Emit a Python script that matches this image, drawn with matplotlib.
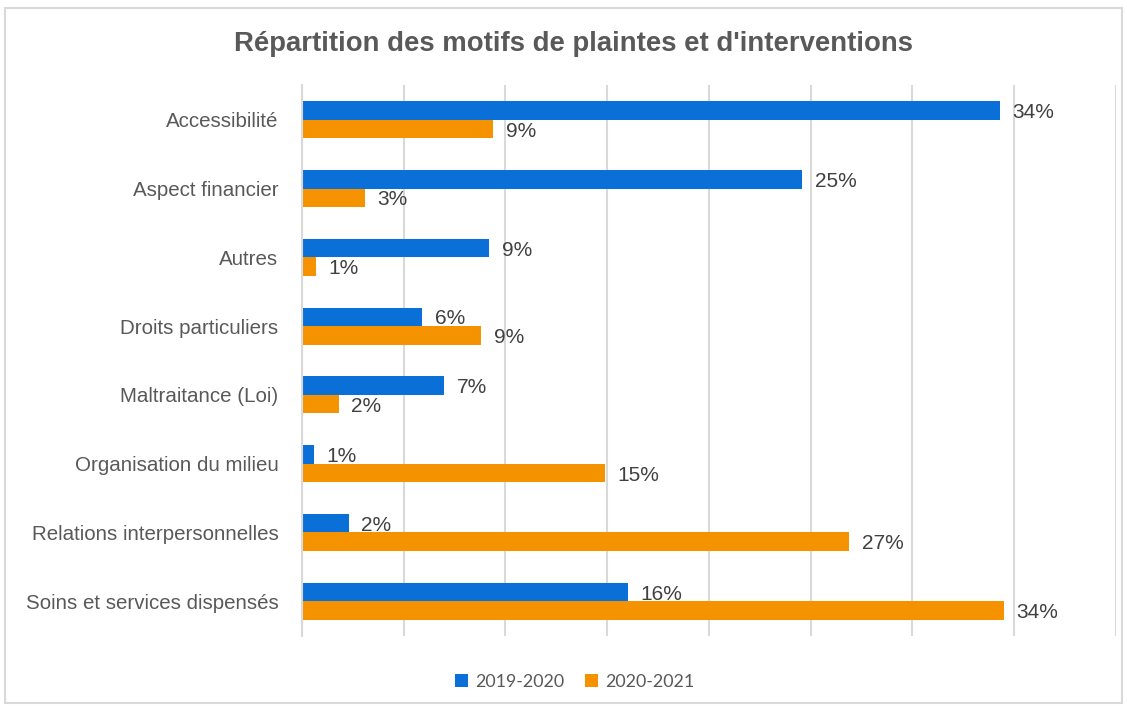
# Horizontal grouped bar chart: complaint / intervention reasons
import matplotlib.pyplot as plt
import matplotlib.patches as mpatches
import numpy as np

plt.rcParams['font.family'] = ['Liberation Sans', 'DejaVu Sans']

# data (percent)
categories = ['Accessibilité', 'Aspect financier', 'Autres', 'Droits particuliers',
              'Maltraitance (Loi)', 'Organisation du milieu',
              'Relations interpersonnelles', 'Soins et services dispensés']
series_names = ['2019-2020', '2020-2021']
values_2019 = [34.3, 24.6, 9.2, 5.9, 7.0, 0.6, 2.3, 16.0]
values_2020 = [9.4, 3.1, 0.7, 8.8, 1.8, 14.9, 26.9, 34.5]

blue = '#0a70d8'
orange = '#f59200'
text_grey = '#595959'

fig = plt.figure(figsize=(11.27, 7.06), dpi=100)
ax = fig.add_axes([0.268, 0.0997, 0.722, 0.7793])

# light frame around the whole chart
fig.patches.append(mpatches.Rectangle((0.004, 0.004), 0.992, 0.984, transform=fig.transFigure,
                                      fill=False, edgecolor='#d9d9d9', linewidth=1.5))

y = np.arange(len(categories))
h = 0.27
bars1 = ax.barh(y - h / 2, values_2019, height=h, color=blue, label=series_names[0])
bars2 = ax.barh(y + h / 2, values_2020, height=h, color=orange, label=series_names[1])

# labels sit a touch below the bar centre, as in the original
for bars, vals in [(bars1, values_2019), (bars2, values_2020)]:
    for b, v in zip(bars, vals):
        ax.annotate(f'{round(v)}%', (b.get_width(), b.get_y() + b.get_height() / 2),
                    xytext=(9, -1.5), textcoords='offset points', ha='left', va='center',
                    fontsize=15, color='#404040')

ax.set_xlim(0, 40)
ax.set_ylim(len(categories) - 0.5, -0.5)
ax.set_xticks(np.arange(0, 41, 5))
ax.set_xticklabels([])
ax.tick_params(axis='x', length=0)
ax.set_yticks(y)
ax.set_yticklabels(categories, fontsize=14.8, color=text_grey)
ax.tick_params(axis='y', length=0, pad=17)

ax.grid(axis='x', color='#d9d9d9', linewidth=1.5)
ax.set_axisbelow(True)
for side in ['top', 'right', 'bottom']:
    ax.spines[side].set_visible(False)
ax.spines['left'].set_color('#d9d9d9')
ax.spines['left'].set_linewidth(1.5)

fig.text(0.509, 0.938, "Répartition des motifs de plaintes et d'interventions",
         ha='center', va='center', fontsize=19.8, fontweight='bold', color=text_grey)

leg = fig.legend(loc='center', bbox_to_anchor=(0.51, 0.034), ncol=2, frameon=False,
                 handlelength=0.7, handleheight=0.7, columnspacing=1.2, handletextpad=0.4,
                 prop={'family': ['Lato', 'DejaVu Sans'], 'size': 12.9})
for t in leg.get_texts():
    t.set_color(text_grey)

plt.savefig('out.png', dpi=100)
